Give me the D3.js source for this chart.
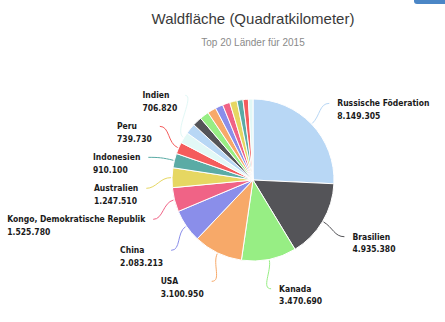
<!DOCTYPE html>
<html>
<head>
<meta charset="utf-8">
<script src="https://cdn.jsdelivr.net/npm/d3@7"></script>
<style>
	body { margin: 0; background: #fff; }
	svg { display: block; }
</style>
</head>
<body>
<div id="chart"></div>
<script>
var countries = ["Russische Föderation", "Brasilien", "Kanada", "USA", "China",
	"Kongo, Demokratische Republik", "Australien", "Indonesien", "Peru", "Indien",
	"Mexiko", "Kolumbien", "Angola", "Bolivien", "Sambia",
	"Venezuela", "Tansania", "Mosambik", "Papua-Neuguinea", "Myanmar"];
var forestArea = [8149305, 4935380, 3470690, 3100950, 2083213,
	1525780, 1247510, 910100, 739730, 706820,
	660400, 585020, 578560, 547640, 486350,
	466830, 460600, 379400, 335590, 290410];
var labelledCount = 10;
var sliceColors = ["#b8d7f5", "#545458", "#97ee84", "#f7a969", "#8a8eea",
	"#f06386", "#e6d762", "#5aaba5", "#f45c5c", "#e2f8f6"];
var chartTitle = "Waldfläche (Quadratkilometer)";
var chartSubtitle = "Top 20 Länder für 2015";

var width = 445, height = 322;
var cx = 253, cy = 180, radius = 81, labelDistance = 30;
var labelGap = 31;

var fmt = d3.formatLocale({decimal: ",", thousands: ".", grouping: [3], currency: ["", " €"]}).format(",d");

var svg = d3.select("#chart").append("svg")
	.attr("width", width)
	.attr("height", height);

// stray button edge in the top right corner of the screenshot
svg.append("rect")
	.attr("x", 414).attr("y", -10)
	.attr("width", 40).attr("height", 14)
	.attr("rx", 3)
	.attr("fill", "#4b86c6");

svg.append("text")
	.attr("x", cx).attr("y", 24)
	.attr("text-anchor", "middle")
	.attr("font-family", "Liberation Sans, Arial, sans-serif")
	.attr("font-size", "15px")
	.attr("fill", "#3a3a3a")
	.text(chartTitle);

svg.append("text")
	.attr("x", cx).attr("y", 46)
	.attr("text-anchor", "middle")
	.attr("font-family", "Liberation Sans, Arial, sans-serif")
	.attr("font-size", "10px")
	.attr("fill", "#8a8a8a")
	.text(chartSubtitle);

var color = d3.scaleOrdinal().domain(d3.range(countries.length)).range(sliceColors);

var rows = countries.map(function (c, i) { return {name: c, value: forestArea[i], idx: i}; });

var pie = d3.pie().sort(null).value(function (d) { return d.value; });
var arcs = pie(rows);

var arc = d3.arc().innerRadius(0).outerRadius(radius);

var g = svg.append("g").attr("transform", "translate(" + cx + "," + cy + ")");

g.selectAll("path.slice")
	.data(arcs)
	.enter()
	.append("path")
	.attr("class", "slice")
	.attr("d", arc)
	.attr("fill", function (d) { return color(d.data.idx); })
	.attr("stroke", "#fff")
	.attr("stroke-width", 1)
	.attr("stroke-linejoin", "round");

// label placement: natural position on a ring outside the pie, then spread out
var R = radius + labelDistance;
var labels = arcs.slice(0, labelledCount).map(function (d) {
	var mid = (d.startAngle + d.endAngle) / 2;
	return {
		d: d,
		mid: mid,
		right: mid < Math.PI,
		ny: -R * Math.cos(mid)
	};
});

function spread(list) {
	list.sort(function (a, b) { return a.ny - b.ny; });
	var groups = list.map(function (l) { return {items: [l]}; });
	function place(gr) {
		var mean = d3.mean(gr.items, function (l) { return l.ny; });
		var top = mean - (gr.items.length - 1) * labelGap / 2;
		gr.items.forEach(function (l, k) { l.y = top + k * labelGap; });
	}
	groups.forEach(place);
	var merged = true;
	while (merged) {
		merged = false;
		for (var i = 0; i < groups.length - 1; i++) {
			var a = groups[i], b = groups[i + 1];
			if (b.items[0].y - a.items[a.items.length - 1].y < labelGap) {
				a.items = a.items.concat(b.items);
				groups.splice(i + 1, 1);
				place(a);
				merged = true;
				break;
			}
		}
	}
}
spread(labels.filter(function (l) { return l.right; }));
spread(labels.filter(function (l) { return !l.right; }));

labels.forEach(function (l) {
	var dy = Math.max(-R, Math.min(R, l.y));
	var dx = Math.sqrt(Math.max(0, R * R - dy * dy));
	l.x = l.right ? dx : -dx;
});

g.selectAll("path.connector")
	.data(labels)
	.enter()
	.append("path")
	.attr("class", "connector")
	.attr("fill", "none")
	.attr("stroke", function (l) { return color(l.d.data.idx); })
	.attr("stroke-width", 1)
	.attr("d", function (l) {
		var s = l.right ? 1 : -1;
		var x0 = (radius + 1) * Math.sin(l.mid), y0 = -(radius + 1) * Math.cos(l.mid);
		var x1 = (radius + 12) * Math.sin(l.mid), y1 = -(radius + 12) * Math.cos(l.mid);
		var x3 = l.x - s * 4, y3 = l.y;
		var x2 = x3 - s * 10, y2 = y3;
		return "M" + x0 + "," + y0 + "C" + x1 + "," + y1 + " " + x2 + "," + y2 + " " + x3 + "," + y3;
	});

var lbl = g.selectAll("text.label")
	.data(labels)
	.enter()
	.append("text")
	.attr("class", "label")
	.attr("font-family", "DejaVu Sans Condensed, DejaVu Sans, sans-serif")
	.attr("font-stretch", "condensed")
	.attr("font-weight", "bold")
	.attr("font-size", "8.5px")
	.attr("fill", "#1a1a1a");

lbl.append("tspan")
	.attr("class", "nm")
	.attr("y", function (l) { return l.y + 3; })
	.text(function (l) { return l.d.data.name; });

lbl.append("tspan")
	.attr("class", "val")
	.attr("y", function (l) { return l.y + 15.5; })
	.text(function (l) { return fmt(l.d.data.value); });

// left-aligned text blocks; blocks on the left side end at the anchor
lbl.each(function (l) {
	var t = d3.select(this);
	var w = Math.max(t.select(".nm").node().getComputedTextLength(),
		t.select(".val").node().getComputedTextLength());
	var x = l.right ? l.x + 4 : l.x - 4 - w;
	t.selectAll("tspan").attr("x", x);
});
</script>
</body>
</html>
